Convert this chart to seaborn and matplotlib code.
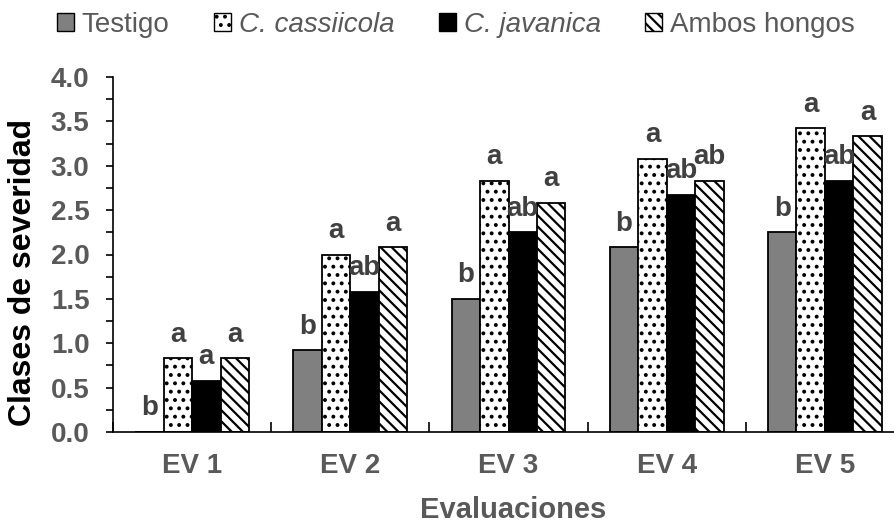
import matplotlib
matplotlib.use("Agg")
import matplotlib.pyplot as plt
import seaborn as sns
import pandas as pd
import numpy as np
from matplotlib.patches import Patch
from matplotlib.ticker import MultipleLocator, FixedLocator

evaluaciones = ["EV 1", "EV 2", "EV 3", "EV 4", "EV 5"]
tratamientos = ["Testigo", "C. cassiicola", "C. javanica", "Ambos hongos"]
testigo = [0.0, 0.92, 1.50, 2.08, 2.25]
cassiicola = [0.83, 2.00, 2.83, 3.08, 3.42]
javanica = [0.58, 1.58, 2.25, 2.67, 2.83]
ambos = [0.83, 2.08, 2.58, 2.83, 3.33]
letras_testigo = ["b", "b", "b", "b", "b"]
letras_cassiicola = ["a", "a", "a", "a", "a"]
letras_javanica = ["a", "ab", "ab", "ab", "ab"]
letras_ambos = ["a", "a", "a", "ab", "a"]

valores = [testigo, cassiicola, javanica, ambos]
letras = [letras_testigo, letras_cassiicola, letras_javanica, letras_ambos]

rows = []
for t, vals in zip(tratamientos, valores):
    for e, v in zip(evaluaciones, vals):
        rows.append({"Evaluaciones": e, "Tratamiento": t, "Severidad": v})
df = pd.DataFrame(rows)

sns.set_style("white")
plt.rcParams['font.family'] = ['Liberation Sans', 'DejaVu Sans']
plt.rcParams['hatch.linewidth'] = 1.6

fig = plt.figure(figsize=(8.94, 5.23), dpi=100)
ax = fig.add_axes([113/894, 1-432/523, (904-113)/894, (432-77)/523])

facecolors = ["#808080", "white", "black", "white"]
hatches = [None, "..", None, "\\\\\\"]
palette = dict(zip(tratamientos, facecolors))

sns.barplot(data=df, x="Evaluaciones", y="Severidad", hue="Tratamiento",
            order=evaluaciones, hue_order=tratamientos, palette=palette,
            width=0.72, gap=0, dodge=True, errorbar=None, ax=ax,
            edgecolor="black", linewidth=1.3, saturation=1, legend=False)

for cont, h, labs in zip(ax.containers, hatches, letras):
    for bar, lab in zip(cont, labs):
        if h:
            bar.set_hatch(h)
        x = bar.get_x() + bar.get_width()/2
        y = bar.get_height()
        ax.annotate(lab, (x, y), xytext=(0, 12), textcoords="offset points",
                    ha="center", va="baseline", fontsize=20, fontweight="bold",
                    color="#404040")

ax.set_ylim(0, 4)
ax.set_xlim(-0.5, 4.5)
ax.set_yticks(np.arange(0, 4.01, 0.5))
ax.set_yticklabels([f"{v:.1f}" for v in np.arange(0, 4.01, 0.5)])
ax.yaxis.set_minor_locator(MultipleLocator(0.25))
ax.tick_params(axis="y", which="both", direction="out", length=5, width=1.2,
               color="black", left=True, labelsize=20, labelcolor="#595959", pad=12)
for t in ax.get_yticklabels():
    t.set_fontweight("bold")
ax.xaxis.set_minor_locator(FixedLocator(np.arange(-0.5, 4.6, 1.0)))
ax.tick_params(axis="x", which="major", length=0, labelsize=20,
               labelcolor="#595959", pad=15)
ax.tick_params(axis="x", which="minor", direction="in", length=7, width=1.2,
               color="black", bottom=True)
for t in ax.get_xticklabels():
    t.set_fontweight("bold")

for s in ["top", "right"]:
    ax.spines[s].set_visible(False)
for s in ["left", "bottom"]:
    ax.spines[s].set_color("black")
    ax.spines[s].set_linewidth(1.2)

ax.set_xlabel("")
ax.set_ylabel("")
fig.text(513/894, 1-518/523, "Evaluaciones", ha="center", va="baseline",
         fontsize=21, fontweight="bold", color="#595959")
fig.text(23/894, 1-272/523, "Clases de severidad", ha="center", va="center",
         rotation=90, fontsize=23, fontweight="bold", color="black")

handles = [Patch(facecolor=fc, edgecolor="black", hatch=h, linewidth=1.0)
           for fc, h in zip(facecolors, hatches)]
leg = fig.legend(handles, tratamientos, loc="center", bbox_to_anchor=(456/894, 1-25/523),
                 ncol=4, frameon=False, fontsize=20, handlelength=0.6,
                 handleheight=0.6, handletextpad=0.3, columnspacing=1.6)
for t, tr in zip(leg.get_texts(), tratamientos):
    t.set_color("#595959")
    if tr.startswith("C."):
        t.set_fontstyle("italic")

fig.savefig("out.png", dpi=100)
